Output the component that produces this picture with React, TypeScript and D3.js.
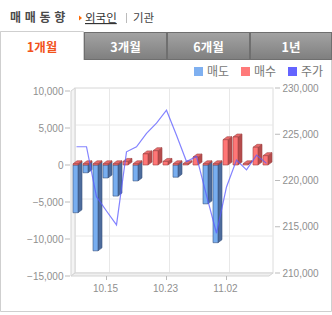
import React from "react";
import * as d3 from "d3";

const dates = ["10.10","10.11","10.12","10.15","10.16","10.17","10.18","10.19","10.22","10.23","10.24","10.25","10.26","10.29","10.31","11.02","11.05","11.06","11.07","11.08"];
const sellVolume = [-6450, -1050, -11600, -1750, -4200, 0, -2150, 0, 0, 0, -1650, 0, 0, -5250, -10500, 0, 0, 0, 0, 0];
const buyVolume = [160, 160, 160, 160, 160, 480, 160, 1500, 1930, 480, 160, 160, 1080, 160, 160, 3420, 3780, 160, 2390, 1260];
const price = [223650, 223650, 218250, 216700, 215200, 223100, 223650, 225100, 226200, 227600, 224900, 222050, 222600, 218400, 214300, 219300, 222200, 221150, 222750, 221850];
const tickIndex = [3, 9, 15];
const leftTicks = [10000, 5000, 0, -5000, -10000, -15000];
const rightTicks = [230000, 225000, 220000, 215000, 210000];
const tabs = ["1개월", "3개월", "6개월", "1년"];
const legendLabels = ["매도", "매수", "주가"];

const KR = "'Noto Sans CJK KR', 'Noto Sans', sans-serif";
const NUM = "'Liberation Sans', Arial, sans-serif";

export default function App() {
  const W = 332, H = 315;
  const DX = 4, DY = -3;
  const x = d3.scaleBand<number>().domain(d3.range(dates.length)).range([70.5, 270.5]).paddingInner(0.5).paddingOuter(0.25);
  const bw = x.bandwidth();
  const y = d3.scaleLinear().domain([-15000, 10000]).range([276, 91]);
  const yP = d3.scaleLinear().domain([210000, 230000]).range([273, 88]);
  const fmt = d3.format(",");
  const y0 = y(0);

  const line = d3.line<number>().x((_, i) => (x(i) as number) + bw / 2 + 1).y((d) => yP(d));

  const bar = (x0: number, yt: number, yb: number, front: string, side: string, top: string, stroke: string, key: string) => {
    const w = bw;
    return (
      <g key={key} stroke={stroke} strokeWidth={0.6} strokeLinejoin="round">
        <polygon points={`${x0 + w},${yt} ${x0 + w + DX},${yt + DY} ${x0 + w + DX},${yb + DY} ${x0 + w},${yb}`} fill={side} />
        <polygon points={`${x0},${yt} ${x0 + DX},${yt + DY} ${x0 + w + DX},${yt + DY} ${x0 + w},${yt}`} fill={top} />
        <rect x={x0} y={yt} width={w} height={Math.max(0, yb - yt)} fill={front} />
      </g>
    );
  };

  const backL = 75, backR = 273, backT = yP(230000), backB = yP(210000);
  const tabW = [0, 84, 167, 250, 332];

  return (
    <svg width={W} height={H} style={{ position: "absolute", left: 0, top: 0, background: "#fff" }}>
      <defs>
        <linearGradient id="tabg" x1="0" y1="0" x2="0" y2="1">
          <stop offset="0" stopColor="#a3a3a3" />
          <stop offset="1" stopColor="#7f7f7f" />
        </linearGradient>
      </defs>

      {/* header */}
      <text x={10} y={22} fontFamily={KR} fontSize={12} fontWeight="bold" fill="#4a4a4a" letterSpacing={0.5}>매 매 동 향</text>
      <polygon points="79,15.5 82,18 79,20.5" fill="#ff6a00" />
      <text x={85} y={22} fontFamily={KR} fontSize={11.5} fill="#333" textDecoration="underline">외국인</text>
      <line x1={126.5} y1={13} x2={126.5} y2={23} stroke="#bbb" />
      <text x={133} y={22} fontFamily={KR} fontSize={11.5} fill="#444">기관</text>

      {/* panel border */}
      <path d={`M0.5,31.5 V311.5 H331.5 V60`} fill="none" stroke="#cfcfcf" />

      {/* tabs */}
      {tabs.map((t, i) => {
        const xa = tabW[i], xb = tabW[i + 1];
        if (i === 0) {
          return (
            <g key={t}>
              <path d={`M0.5,60 V31.5 H${xb - 0.5} V60`} fill="#fff" stroke="#cfcfcf" />
              <text x={(xa + xb) / 2} y={51.5} textAnchor="middle" fontFamily={KR} fontSize={12.5} fontWeight="bold" fill="#f2531b">{t}</text>
            </g>
          );
        }
        return (
          <g key={t}>
            <rect x={xa + 0.5} y={32.5} width={xb - xa - 1} height={27} fill="url(#tabg)" stroke="#6f6f6f" />
            <text x={(xa + xb) / 2} y={51.5} textAnchor="middle" fontFamily={KR} fontSize={12.5} fontWeight="bold" fill="#fff">{t}</text>
          </g>
        );
      })}

      {/* legend */}
      {legendLabels.map((l, i) => {
        const lx = [194, 241, 288][i];
        const c = ["#7fb0f0", "#ff7a7a", "#6464ff"][i];
        return (
          <g key={l}>
            <rect x={lx} y={67} width={9} height={9} fill={c} />
            <text x={lx + 13} y={75.5} fontFamily={KR} fontSize={12} fill="#777">{l}</text>
          </g>
        );
      })}

      {/* back wall */}
      <rect x={backL} y={backT} width={backR - backL} height={backB - backT} fill="#fff" stroke="#dcdcdc" />
      {leftTicks.map((t) => (
        <line key={"g" + t} x1={backL} x2={backR} y1={y(t) + DY} y2={y(t) + DY} stroke="#e8e8e8" />
      ))}
      {tickIndex.map((i) => {
        const cx = (x(i) as number) + bw / 2 + DX;
        return <line key={"v" + i} x1={cx} x2={cx} y1={backT} y2={backB} stroke="#e8e8e8" />;
      })}
      {/* left wall */}
      <polygon points={`71,${y(10000)} ${backL},${backT} ${backL},${backB} 71,${y(-15000)}`} fill="#f4f4f4" stroke="#d4d4d4" />
      {/* floor */}
      <polygon points={`71,${y(-15000)} ${backL},${backB} ${backR},${backB} ${backR - DX},${y(-15000)}`} fill="#f0f0f0" stroke="#d4d4d4" />

      {/* left axis */}
      {leftTicks.map((t) => (
        <g key={"l" + t}>
          <line x1={65} x2={70} y1={y(t)} y2={y(t)} stroke="#bbb" />
          <text x={63.5} y={y(t) + 3.6} textAnchor="end" fontFamily={NUM} fontSize={10} fill="#8f8f8f">{fmt(t)}</text>
        </g>
      ))}
      {/* right axis */}
      {rightTicks.map((t) => (
        <g key={"r" + t}>
          <line x1={275} x2={280} y1={yP(t)} y2={yP(t)} stroke="#bbb" />
          <text x={282.5} y={yP(t) + 3.6} fontFamily={NUM} fontSize={10} fill="#8f8f8f">{fmt(t)}</text>
        </g>
      ))}
      {/* x axis */}
      {tickIndex.map((i) => {
        const cx = (x(i) as number) + bw / 2;
        return (
          <g key={"x" + i}>
            <line x1={cx + 1} x2={cx + 1} y1={276} y2={280} stroke="#bbb" />
            <text x={cx} y={291.5} textAnchor="middle" fontFamily={NUM} fontSize={10} fill="#8f8f8f">{dates[i]}</text>
          </g>
        );
      })}

      {/* bars */}
      {dates.map((d, i) => {
        const x0 = x(i) as number;
        return (
          <g key={d}>
            {sellVolume[i] < 0 && bar(x0, y0, y(sellVolume[i]), "#78aef0", "#4d6c9c", "#a3c6f2", "#3a5480", "s" + i)}
            {buyVolume[i] > 0 && bar(x0, y(buyVolume[i]), y0, "#ff7676", "#b54c4c", "#e86a6a", "#a04444", "b" + i)}
          </g>
        );
      })}

      {/* price line */}
      <path d={line(price) as string} fill="none" stroke="#5a5aff" strokeOpacity={0.75} strokeWidth={1.2} />
    </svg>
  );
}
